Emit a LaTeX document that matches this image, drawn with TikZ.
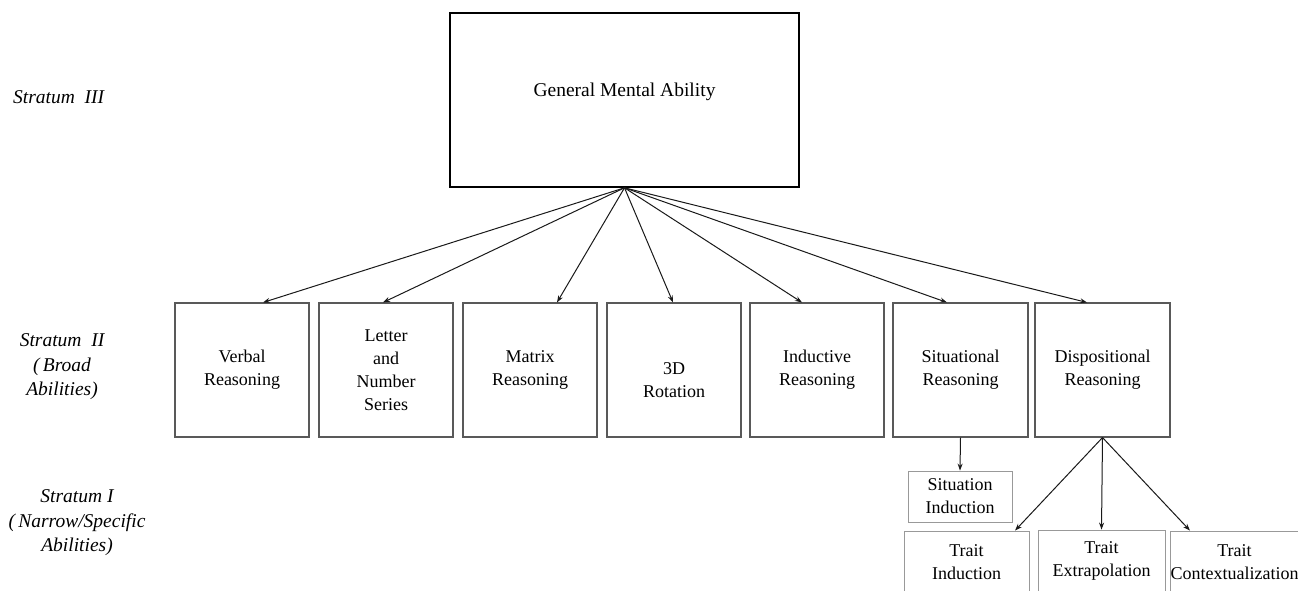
\documentclass[tikz,border=0pt]{standalone}
\usepackage{fontspec}
\setmainfont{Liberation Serif}
\usetikzlibrary{arrows.meta}
\begin{document}
\begin{tikzpicture}[x=1pt,y=-1pt,
  box/.style={draw=black!65, line width=1.1pt, align=center, inner sep=0pt,
    font=\fontsize{18}{23}\selectfont},
  smallbox/.style={box, draw=black!40, line width=0.8pt},
  topbox/.style={draw=black, line width=1.6pt, align=center, inner sep=0pt,
    font=\fontsize{19.5}{24}\selectfont},
  lvl/.style={align=center, font=\itshape\fontsize{19.5}{24.5}\selectfont, inner sep=0pt},
  arr/.style={draw=black!90, line width=1pt, -{Stealth[length=7pt,width=5pt]}}]
\useasboundingbox (0,0) rectangle (1298,590);
\clip (0,0) rectangle (1298,590);
% Stratum labels
\node[lvl, anchor=west] (s3) at (13,97) {Stratum\ \ III};
\node[lvl] (s2) at (62,367) {Stratum\ \ II\\(\,Broad\\Abilities)};
\node[lvl] (s1) at (77,523) {Stratum I\\(\,Narrow/Specific\\Abilities)};
% Top
\node[topbox, minimum width=349pt, minimum height=174pt] (g) at (624.5,100) {};
\node[font=\fontsize{19.5}{24}\selectfont, inner sep=0pt] (gt) at (624.5,92) {General Mental Ability};
% Stratum II
\node[box, minimum width=134pt, minimum height=134pt] (vr) at (242,370) {Verbal\\Reasoning};
\node[box, minimum width=134pt, minimum height=134pt] (ln) at (386,370) {Letter\\and\\Number\\Series};
\node[box, minimum width=134pt, minimum height=134pt] (mr) at (530,370) {Matrix\\Reasoning};
\node[box, minimum width=134pt, minimum height=134pt] (rt) at (674,370) {};
\node[align=center, font=\fontsize{18}{23}\selectfont, inner sep=0pt] (rtt) at (674,380) {3D\\Rotation};
\node[box, minimum width=134pt, minimum height=134pt] (ir) at (817,370) {Inductive\\Reasoning};
\node[box, minimum width=135pt, minimum height=134pt] (sr) at (960.5,370) {Situational\\Reasoning};
\node[box, minimum width=135pt, minimum height=134pt] (dr) at (1102.5,370) {Dispositional\\Reasoning};
% Stratum I
\node[smallbox, minimum width=104pt, minimum height=51pt] (si) at (960,496.5) {Situation\\Induction};
\node[smallbox, minimum width=125pt, minimum height=62pt] (ti) at (966.5,562) {Trait\\Induction};
\node[smallbox, minimum width=127pt, minimum height=62pt] (te) at (1101.5,561) {Trait\\Extrapolation};
\node[smallbox, minimum width=125pt, minimum height=62pt] (tc) at (1234.5,562) {Trait\\Contextualization};
% Arrows
\coordinate (gb) at (g.south);
\draw[arr] (gb) -- (vr.north -| 263,0);
\draw[arr] (gb) -- (ln.north -| 383,0);
\draw[arr] (gb) -- (mr.north -| 557,0);
\draw[arr] (gb) -- (rt.north -| 673,0);
\draw[arr] (gb) -- (ir.north -| 802,0);
\draw[arr] (gb) -- (sr.north -| 947,0);
\draw[arr] (gb) -- (dr.north -| 1087,0);
\draw[arr] (sr.south) -- (si.north);
\draw[arr] (dr.south) -- (ti.north -| 1015,0);
\draw[arr] (dr.south) -- (te.north);
\draw[arr] (dr.south) -- (tc.north -| 1190,0);
\end{tikzpicture}
\end{document}
